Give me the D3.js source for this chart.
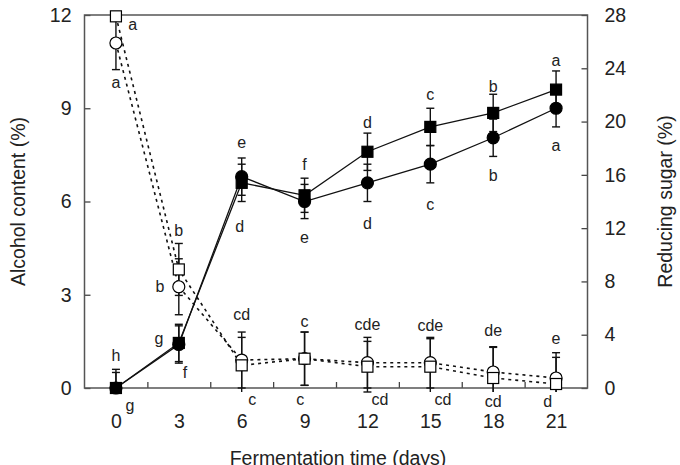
<!DOCTYPE html>
<html>
<head>
<meta charset="utf-8">
<script src="https://cdn.jsdelivr.net/npm/d3@7"></script>
<style>
  body { margin: 0; background: #fff; }
  text { font-family: "Liberation Sans", Arial, sans-serif; fill: #222; }
</style>
</head>
<body>
<div id="chart"></div>
<script>
// fermentation days
var days = [0, 3, 6, 9, 12, 15, 18, 21];

// alcohol content (%), left axis - filled squares / filled circles
var alcoholSq = [0, 1.45, 6.6, 6.2, 7.6, 8.4, 8.85, 9.6];
var alcoholSqErr = [0.6, 0.6, 0.6, 0.55, 0.6, 0.6, 0.6, 0.6];
var alcoholCi = [0, 1.4, 6.8, 6.0, 6.6, 7.2, 8.05, 9.0];
var alcoholCiErr = [0.5, 0.6, 0.6, 0.55, 0.6, 0.6, 0.6, 0.6];

// reducing sugar (%), right axis - open squares / open circles
var sugarSq = [27.9, 8.9, 1.7, 2.2, 1.6, 1.6, 0.75, 0.3];
var sugarSqErr = [0.3, 1.95, 2.1, 2.0, 1.9, 2.1, 2.3, 2.0];
var sugarCi = [25.9, 7.6, 2.1, 2.2, 1.9, 1.9, 1.2, 0.75];
var sugarCiErr = [2.0, 2.1, 2.1, 2.0, 1.9, 1.9, 1.9, 1.9];

// significance letters: [day, value, letter]
var alcoholLetters = [
  [0, 1.06, "h"], [2.05, 1.6, "g"], [6, 7.9, "e"], [9, 7.2, "f"],
  [12, 8.55, "d"], [15, 9.45, "c"], [18, 9.7, "b"], [21, 10.55, "a"],
  [0.67, -0.55, "g"], [3.3, 0.5, "f"], [5.9, 5.2, "d"], [9, 4.85, "e"],
  [12, 5.3, "d"], [15, 5.9, "c"], [18, 6.85, "b"], [21, 7.8, "a"]
];
var sugarLetters = [
  [0.8, 27.25, "a"], [3, 11.86, "b"], [6, 5.5, "cd"], [9, 5.0, "c"],
  [12, 4.8, "cde"], [15, 4.7, "cde"], [18, 4.3, "de"], [21, 3.75, "e"],
  [0, 22.9, "a"], [2.1, 7.6, "b"], [6.5, -0.85, "c"], [8.8, -0.85, "c"],
  [12.6, -0.9, "cd"], [15.6, -0.9, "cd"], [18, -1.0, "cd"], [20.6, -1.0, "d"]
];

var leftTicks = [0, 3, 6, 9, 12];
var rightTicks = [0, 4, 8, 12, 16, 20, 24, 28];
var minorX = [1.5, 4.5, 7.5, 10.5, 13.5, 16.5, 19.5];

var width = 680, height = 465;
var x = d3.scaleLinear().domain([-1.5, 22.5]).range([84.5, 587.5]);
var yL = d3.scaleLinear().domain([0, 12]).range([388, 15]);
var yR = d3.scaleLinear().domain([0, 28]).range([388, 15]);

var svg = d3.select("#chart").append("svg")
    .attr("width", width)
    .attr("height", height);

// axes
svg.append("g")
    .attr("transform", "translate(84.5,0)")
    .call(d3.axisLeft(yL).tickValues(leftTicks).tickSize(-6).tickPadding(13))
    .call(g => g.select(".domain").remove());

svg.append("g")
    .attr("transform", "translate(587.5,0)")
    .call(d3.axisRight(yR).tickValues(rightTicks).tickSize(-6).tickPadding(17))
    .call(g => g.select(".domain").remove());

svg.append("g")
    .attr("transform", "translate(0,388)")
    .call(d3.axisBottom(x).tickValues(days).tickSize(0).tickPadding(26))
    .call(g => g.select(".domain").remove());

svg.append("g")
    .attr("transform", "translate(0,388)")
    .call(d3.axisBottom(x).tickValues(minorX).tickSize(-6).tickFormat(""))
    .call(g => g.select(".domain").remove());

svg.selectAll(".tick text").style("font-size", "19.5px");
svg.selectAll(".tick line").attr("stroke", "#444").attr("stroke-width", 1.3);

svg.append("rect")
    .attr("x", x(-1.5)).attr("y", yL(12))
    .attr("width", x(22.5) - x(-1.5)).attr("height", yL(0) - yL(12))
    .attr("fill", "none").attr("stroke", "#555").attr("stroke-width", 1.5);

// axis titles
svg.append("text")
    .attr("transform", "translate(25," + (yL(6)) + ") rotate(-90)")
    .attr("text-anchor", "middle")
    .style("font-size", "19.5px")
    .text("Alcohol content (%)");

svg.append("text")
    .attr("transform", "translate(672," + (yL(6)) + ") rotate(-90)")
    .attr("text-anchor", "middle")
    .style("font-size", "19.5px")
    .text("Reducing sugar (%)");

svg.append("text")
    .attr("x", 338).attr("y", 465)
    .attr("text-anchor", "middle")
    .style("font-size", "19.5px")
    .text("Fermentation time (days)");

function series(vals, errs) {
  return days.map((d, i) => ({day: d, v: vals[i], e: errs[i]}));
}

var sSq = series(sugarSq, sugarSqErr);
var sCi = series(sugarCi, sugarCiErr);
var aSq = series(alcoholSq, alcoholSqErr);
var aCi = series(alcoholCi, alcoholCiErr);

function drawLine(data, y, dashed) {
  svg.append("path")
      .datum(data)
      .attr("fill", "none")
      .attr("stroke", "#111")
      .attr("stroke-width", dashed ? 1.6 : 1.3)
      .attr("stroke-dasharray", dashed ? "3,4" : null)
      .attr("d", d3.line().x(d => x(d.day)).y(d => y(d.v)));
}

// lower bars are cut just below the x axis, as in the original
function drawErrors(data, y, floor) {
  var lo = d => Math.max(d.v - d.e, floor);
  var g = svg.append("g").attr("stroke", "#111").attr("stroke-width", 1.4);
  g.selectAll(".stem").data(data).enter().append("line")
      .attr("x1", d => x(d.day)).attr("x2", d => x(d.day))
      .attr("y1", d => y(lo(d))).attr("y2", d => y(d.v + d.e));
  g.selectAll(".capT").data(data).enter().append("line")
      .attr("x1", d => x(d.day) - 4).attr("x2", d => x(d.day) + 4)
      .attr("y1", d => y(d.v + d.e)).attr("y2", d => y(d.v + d.e));
  g.selectAll(".capB").data(data.filter(d => d.v - d.e >= floor)).enter().append("line")
      .attr("x1", d => x(d.day) - 4).attr("x2", d => x(d.day) + 4)
      .attr("y1", d => y(lo(d))).attr("y2", d => y(lo(d)));
}

function drawSquares(data, y, filled) {
  svg.selectAll(null).data(data).enter().append("rect")
      .attr("x", d => x(d.day) - 5.5).attr("y", d => y(d.v) - 5.5)
      .attr("width", 11).attr("height", 11)
      .attr("fill", filled ? "#000" : "#fff")
      .attr("stroke", "#000").attr("stroke-width", 1.2);
}

function drawCircles(data, y, filled) {
  svg.selectAll(null).data(data).enter().append("circle")
      .attr("cx", d => x(d.day)).attr("cy", d => y(d.v))
      .attr("r", 6)
      .attr("fill", filled ? "#000" : "#fff")
      .attr("stroke", "#000").attr("stroke-width", 1.2);
}

// reducing sugar (dashed)
drawLine(sCi, yR, true);
drawLine(sSq, yR, true);
drawErrors(sCi, yR, -0.3);
drawErrors(sSq, yR, -0.3);
drawCircles(sCi, yR, false);
drawSquares(sSq, yR, false);

// alcohol (solid)
drawLine(aCi, yL, false);
drawLine(aSq, yL, false);
drawErrors(aCi, yL, 0);
drawErrors(aSq, yL, 0);
drawCircles(aCi, yL, true);
drawSquares(aSq, yL, true);

// letters
svg.selectAll(null).data(alcoholLetters).enter().append("text")
    .attr("x", d => x(d[0])).attr("y", d => yL(d[1]))
    .attr("text-anchor", "middle").attr("dominant-baseline", "central")
    .style("font-size", "16px")
    .text(d => d[2]);

svg.selectAll(null).data(sugarLetters).enter().append("text")
    .attr("x", d => x(d[0])).attr("y", d => yR(d[1]))
    .attr("text-anchor", "middle").attr("dominant-baseline", "central")
    .style("font-size", "16px")
    .text(d => d[2]);
</script>
</body>
</html>
